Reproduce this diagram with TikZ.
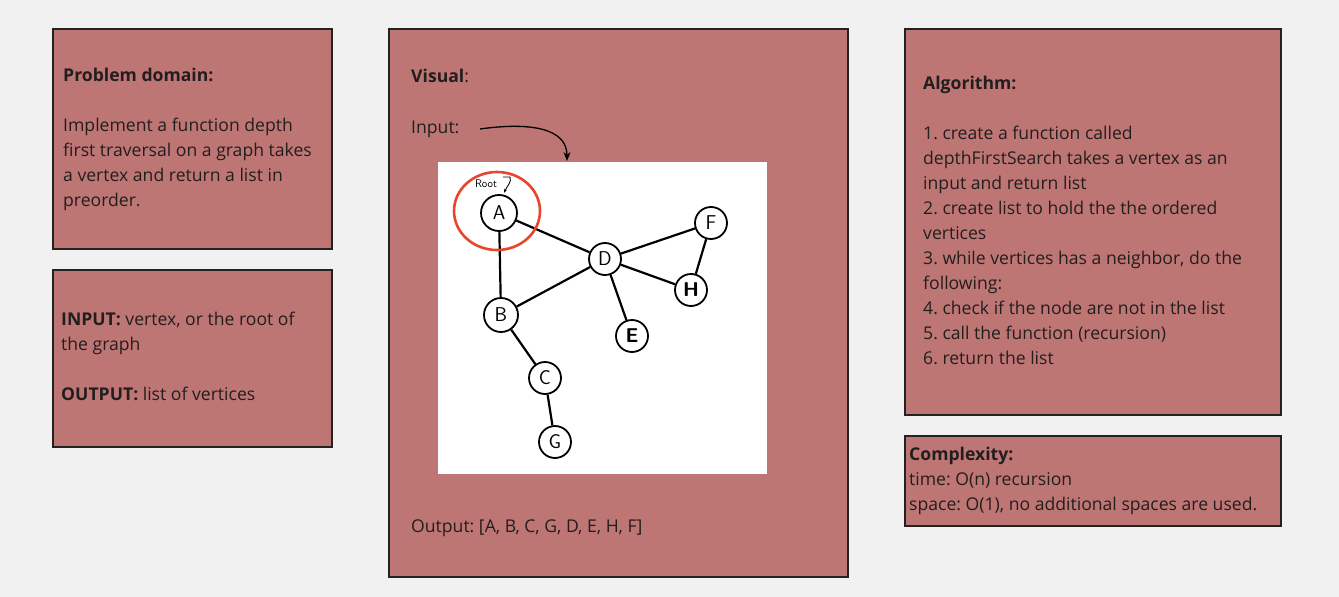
\documentclass[tikz,border=0pt]{standalone}
\usepackage{fontspec}
\setmainfont{Open Sans}
\frenchspacing
\usetikzlibrary{arrows.meta,shapes.geometric}
\definecolor{bg}{RGB}{241,241,241}
\definecolor{boxfill}{RGB}{190,118,117}
\definecolor{boxline}{RGB}{34,34,34}
\definecolor{txt}{RGB}{34,30,30}
\definecolor{rootred}{RGB}{232,70,44}
\tikzset{
  card/.style={draw=boxline, line width=2pt, fill=boxfill},
  ln/.style={anchor=base west, inner sep=0pt, text=txt, font=\fontsize{17.6}{25}\selectfont\frenchspacing},
  vert/.style={circle, draw=black, line width=1.8pt, fill=white, minimum size=32pt, inner sep=0pt, font=\fontsize{20}{22}\sffamily},
  edge/.style={line width=2.2pt, black},
}
\begin{document}
\begin{tikzpicture}[x=1pt,y=-1pt]
\useasboundingbox[fill=bg] (0,0) rectangle (1339,597);
% boxes
\draw[card] (53,29) rectangle (332,249);
\draw[card] (53,270) rectangle (332,447);
\draw[card] (389,29) rectangle (848,577);
\draw[card] (905,29) rectangle (1281,415);
\draw[card] (905,436) rectangle (1281,526);
% problem domain
\node[ln] (pd0) at (63,81) {\textbf{Problem domain:}};
\node[ln] (pd1) at (63,131) {Implement a function depth};
\node[ln] (pd2) at (63,156) {first traversal on a graph takes};
\node[ln] (pd3) at (63,181) {a vertex and return a list in};
\node[ln] (pd4) at (63,206) {preorder.};
% input/output
\node[ln] (io1) at (61,325) {\textbf{INPUT:} vertex, or the root of};
\node[ln] (io2) at (61,350) {the graph};
\node[ln] (io3) at (61,400) {\textbf{OUTPUT:} list of vertices};
% visual
\node[ln] (v0) at (411,82) {\textbf{Visual}:};
\node[ln] (v1) at (411,133) {Input:};
\node[ln] (v2) at (411,532) {Output: [A, B, C, G, D, E, H, F]};
% algorithm
\node[ln] (al0) at (923,89) {\textbf{Algorithm:}};
\node[ln] (al1) at (923,139) {1. create a function called};
\node[ln] (al2) at (923,164) {depthFirstSearch takes a vertex as an};
\node[ln] (al3) at (923,189) {input and return list};
\node[ln] (al4) at (923,214) {2. create list to hold the the ordered};
\node[ln] (al5) at (923,239) {vertices};
\node[ln] (al6) at (923,264) {3. while vertices has a neighbor, do the};
\node[ln] (al7) at (923,289) {following:};
\node[ln] (al8) at (923,314) {4. check if the node are not in the list};
\node[ln] (al9) at (923,339) {5. call the function (recursion)};
\node[ln] (al10) at (923,364) {6. return the list};
% complexity
\node[ln] (cx0) at (909,460) {\textbf{Complexity:}};
\node[ln] (cx1) at (909,485) {time: O(n) recursion};
\node[ln] (cx2) at (909,510) {space: O(1), no additional spaces are used.};
% picture
\fill[white] (438,162) rectangle (767,474);
\coordinate (inS) at (480,129);
\coordinate (inE) at (567,161);
\draw[line width=1.3pt, -{Stealth[length=9pt,width=7pt]}] (inS) .. controls (530,122) and (567,128) .. (inE);
\node[vert, minimum size=36pt] (A) at (499,213) {A};
\node[vert] (D) at (605,259) {D};
\node[vert] (F) at (711,223) {F};
\node[vert] (H) at (691,290) {\textbf{H}};
\node[vert, minimum size=34pt] (B) at (501,315) {B};
\node[vert] (E) at (632,336) {\textbf{E}};
\node[vert] (C) at (545,378) {C};
\node[vert] (G) at (555,442) {G};
\draw[edge] (A) -- (D);
\draw[edge] (A) -- (B);
\draw[edge] (B) -- (D);
\draw[edge] (D) -- (F);
\draw[edge] (D) -- (H);
\draw[edge] (F) -- (H);
\draw[edge] (D) -- (E);
\draw[edge] (B) -- (C);
\draw[edge] (C) -- (G);
\node[draw=rootred, line width=2.6pt, ellipse, minimum width=86pt, minimum height=78pt] (root) at (497,211) {};
\node[inner sep=0pt, font=\fontsize{11}{12}\sffamily] (rootlbl) at (486,184) {Root};
\coordinate (rarrS) at (503,177);
\coordinate (rarrE) at (504,193);
\draw[line width=0.9pt, -{Stealth[length=4pt]}] (rarrS) -- (510,177) .. controls (512,182) and (507,186) .. (rarrE);
\end{tikzpicture}
\end{document}
